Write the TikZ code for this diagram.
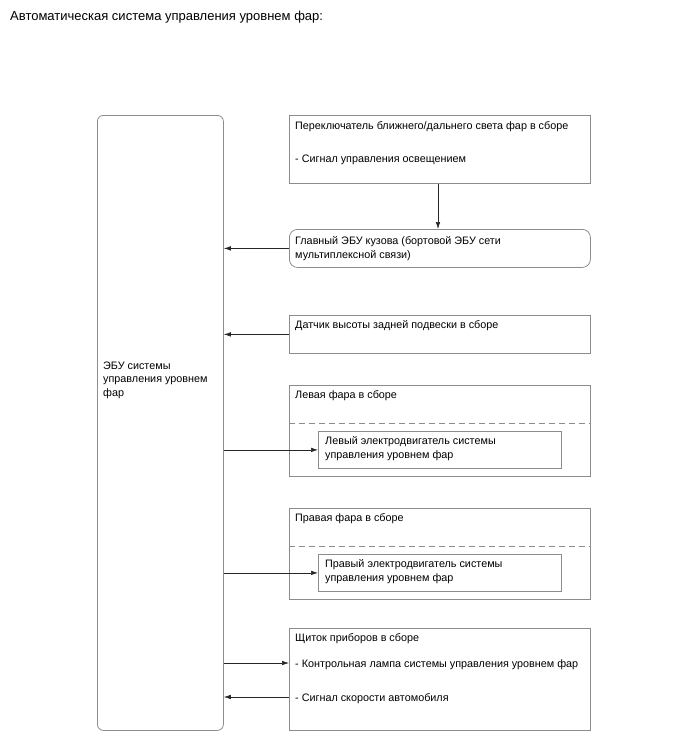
\documentclass[tikz,border=0pt]{standalone}
\usepackage{fontspec}
\setmainfont{Liberation Sans}
\usetikzlibrary{arrows.meta}
\definecolor{boxgray}{gray}{0.55}
\definecolor{arrgray}{gray}{0.15}
\tikzset{
  blk/.style={draw=boxgray, line width=0.8pt, inner sep=0pt, anchor=north west, minimum width=301pt},
  sub/.style={blk, minimum width=243pt, minimum height=37pt},
  lbl/.style={anchor=base west, inner sep=0pt, font=\fontsize{10.8}{13.5}\selectfont, align=left},
  conn/.style={draw=arrgray, line width=0.6pt, -{Latex[length=7pt,width=4.5pt]}},
  split/.style={draw=boxgray, line width=0.8pt, dash pattern=on 6pt off 4pt}
}
\begin{document}
\begin{tikzpicture}[x=1pt,y=-1pt]
    \useasboundingbox (0,0) rectangle (688,755);
    \node[anchor=base west, inner sep=0pt, font=\fontsize{13}{15}\selectfont] (title) at (10,20) {Автоматическая система управления уровнем фар:};
    % left control unit
    \node[blk, minimum width=126pt, minimum height=615pt, rounded corners=6pt] (ecu) at (97,115) {};
    \node[lbl] (ecutxt) at (103,396) {ЭБУ системы\\управления уровнем\\фар};
    % boxes on the right
    \node[blk, minimum height=68pt] (sw) at (289,115) {};
    \node[lbl] (swa) at (295,129) {Переключатель ближнего/дальнего света фар в сборе};
    \node[lbl] (swb) at (295,162) {- Сигнал управления освещением};
    \node[blk, minimum height=38pt, rounded corners=8pt] (body) at (289,229) {};
    \node[lbl] (bodytxt) at (295,258) {Главный ЭБУ кузова (бортовой ЭБУ сети\\мультиплексной связи)};
    \node[blk, minimum height=38pt] (hgt) at (289,315) {};
    \node[lbl] (hgttxt) at (295,328) {Датчик высоты задней подвески в сборе};
    \node[blk, minimum height=91pt] (lhl) at (289,385) {};
    \node[lbl] (lhltxt) at (295,398) {Левая фара в сборе};
    \draw[split] (289,423) -- (590,423);
    \node[sub] (lmot) at (318,431) {};
    \node[lbl] (lmottxt) at (325,458) {Левый электродвигатель системы\\управления уровнем фар};
    \node[blk, minimum height=91pt] (rhl) at (289,508) {};
    \node[lbl] (rhltxt) at (295,521) {Правая фара в сборе};
    \draw[split] (289,546) -- (590,546);
    \node[sub] (rmot) at (318,554) {};
    \node[lbl] (rmottxt) at (325,581) {Правый электродвигатель системы\\управления уровнем фар};
    \node[blk, minimum height=102pt] (meter) at (289,628) {};
    \node[lbl] (metera) at (295,641) {Щиток приборов в сборе};
    \node[lbl] (meterb) at (295,667) {- Контрольная лампа системы управления уровнем фар};
    \node[lbl] (meterc) at (295,701) {- Сигнал скорости автомобиля};
    % connections
    \coordinate (lamp) at (289,663); \coordinate (spd) at (289,697);
    \draw[conn] (sw.south -| 438,0) -- (body.north -| 438,0);
    \draw[conn] (body.west) -- (body.west -| ecu.east);
    \draw[conn] (hgt.west) -- (hgt.west -| ecu.east);
    \draw[conn] (lmot.west -| ecu.east) -- (lmot.west);
    \draw[conn] (rmot.west -| ecu.east) -- (rmot.west);
    \draw[conn] (lamp -| ecu.east) -- (lamp);
    \draw[conn] (spd) -- (spd -| ecu.east);
\end{tikzpicture}
\end{document}
